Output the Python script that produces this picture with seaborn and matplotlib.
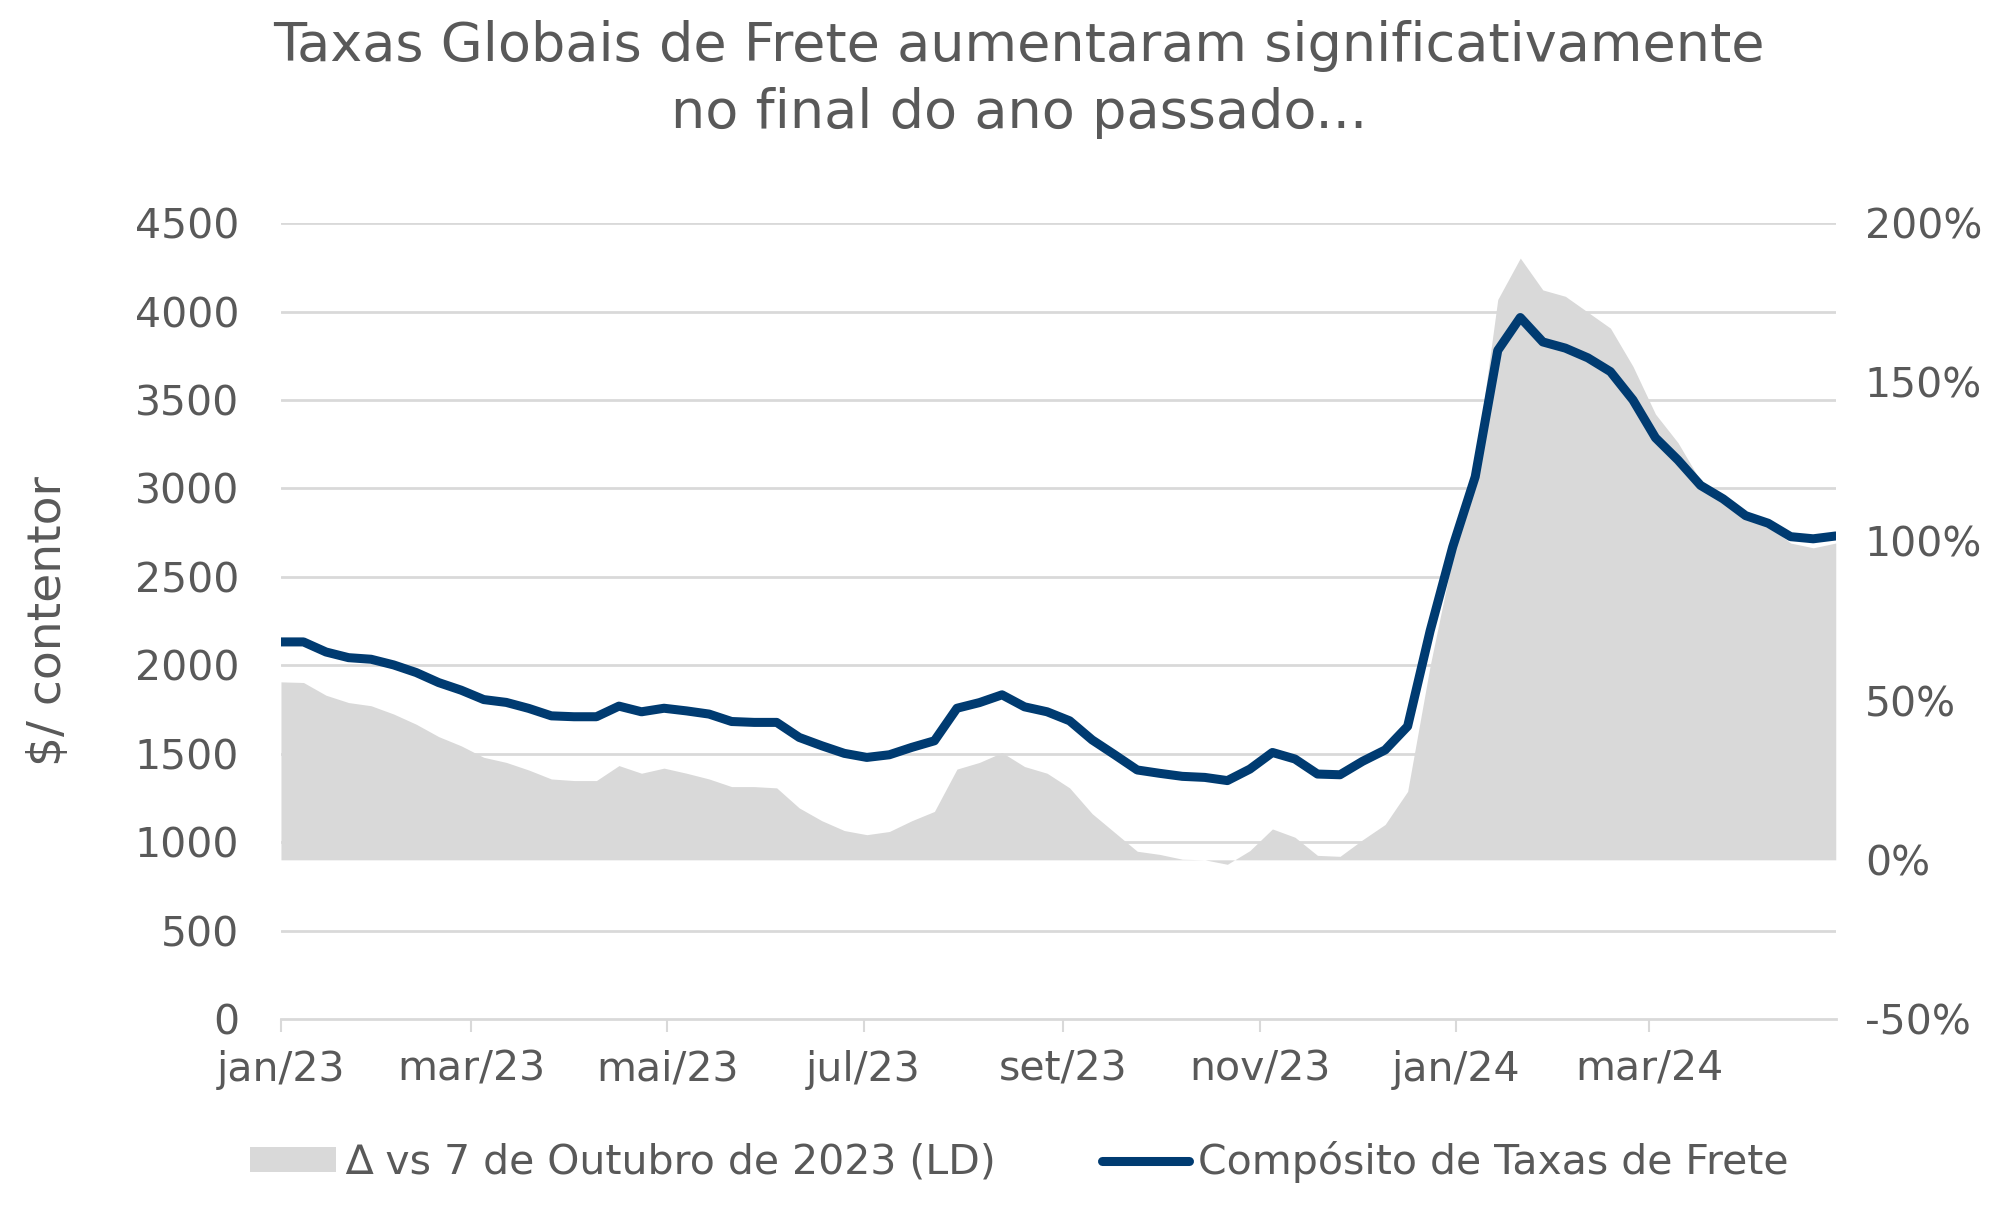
import pandas as pd
import numpy as np
import matplotlib
matplotlib.use("Agg")
import matplotlib.pyplot as plt
from matplotlib.patches import Patch
from matplotlib.lines import Line2D
import seaborn as sns

# ── Data (weekly) ─────────────────────────────────────────────────────────────
dates = pd.date_range("2023-01-05", periods=70, freq="7D")

composite = [
    2132, 2132, 2075, 2043, 2034, 2002, 1959, 1902, 1859, 1806,
    1790, 1756, 1714, 1709, 1709, 1769, 1737, 1757, 1742, 1724,
    1682, 1677, 1677, 1592, 1545, 1502, 1479, 1494, 1536, 1573,
    1757, 1789, 1833, 1765, 1737, 1686, 1578, 1494, 1408, 1389,
    1372, 1366, 1348, 1413, 1507, 1470, 1385, 1381, 1457, 1521,
    1655, 2195, 2669, 3066, 3780, 3966, 3828, 3793, 3738, 3660,
    3500, 3286, 3160, 3017, 2941, 2846, 2803, 2727, 2715, 2731,
]

delta_pct = [
    55.9, 55.7, 51.7, 49.4, 48.4, 45.8, 42.6, 38.7, 35.8, 32.2,
    30.6, 28.2, 25.4, 24.9, 24.9, 29.6, 27.2, 28.8, 27.2, 25.4,
    23.0, 23.0, 22.6, 16.3, 12.3, 9.2, 7.9, 8.9, 12.3, 15.2,
    28.5, 30.6, 33.7, 29.3, 27.2, 22.6, 14.5, 8.6, 2.7, 1.7,
    0.2, 0.0, -1.4, 2.9, 9.7, 7.1, 1.4, 1.1, 6.3, 11.1,
    21.5, 61.0, 95.0, 124.0, 176.0, 189.0, 179.0, 177.0, 172.0, 167.0,
    155.0, 140.0, 131.0, 119.0, 113.0, 108.0, 105.0, 99.5, 98.0, 99.5,
]

left_ticks = list(range(0, 4501, 500))
right_ticks = [-50, 0, 50, 100, 150, 200]
tick_dates = pd.date_range("2023-01-05", periods=8, freq=pd.DateOffset(months=2))
tick_labels = ["jan/23", "mar/23", "mai/23", "jul/23", "set/23", "nov/23", "jan/24", "mar/24"]

df = pd.DataFrame({"data": dates, "composite": composite, "delta": delta_pct})

# ── Style ─────────────────────────────────────────────────────────────────────
sns.set_theme(style="white")
plt.rcParams["font.family"] = ["DejaVu Sans"]

NAVY = "#003b71"
GREY = "#d9d9d9"
TEXT = "#595959"
FS = 29.5

fig = plt.figure(figsize=(20.14, 12.27), dpi=100)
ax = fig.add_axes([0.1395, 0.1695, 0.772, 0.6487])
ax2 = ax.twinx()

# area on the right axis (behind), line on the left axis (front)
ax2.fill_between(df["data"], 0, df["delta"], color=GREY, linewidth=0, zorder=1)
ax2.set_ylim(-50, 200)
ax2.set_yticks(right_ticks)
ax2.set_yticklabels([f"{t}%" for t in right_ticks])

ax.set_zorder(ax2.get_zorder() + 1)
ax.patch.set_visible(False)
sns.lineplot(data=df, x="data", y="composite", ax=ax, color=NAVY,
             linewidth=6.5, solid_capstyle="round", zorder=3)
ax.set_ylim(0, 4500)
ax.set_yticks(left_ticks)
ax.set_xlim(dates[0], dates[-1])
ax.set_xticks(tick_dates)
ax.set_xticklabels(tick_labels)

# gridlines drawn on the back axis so they sit under the area
for v in left_ticks[1:]:
    ax2.axhline(-50 + v / 4500 * 250, color=GREY, linewidth=2, zorder=0)

ax.set_xlabel("")
ax.set_ylabel("$/ contentor", fontsize=34, color=TEXT)
ax.yaxis.set_label_coords(-0.135, 0.5)

for a in (ax, ax2):
    for s in a.spines.values():
        s.set_visible(False)
ax.spines["bottom"].set_visible(True)
ax.spines["bottom"].set_color(GREY)
ax.spines["bottom"].set_linewidth(2)

ax.tick_params(axis="y", length=0, pad=30, labelsize=FS, labelcolor=TEXT)
ax.tick_params(axis="x", length=9, width=1.5, color=GREY, direction="out",
               pad=13, labelsize=FS, labelcolor=TEXT, bottom=True)
ax2.tick_params(axis="y", length=0, pad=21, labelsize=FS, labelcolor=TEXT)

fig.suptitle("Taxas Globais de Frete aumentaram significativamente\nno final do ano passado...",
             x=0.506, y=0.984, fontsize=39, color=TEXT, linespacing=1.38, va="top")

handles = [Patch(facecolor=GREY, edgecolor="none"),
           Line2D([0], [0], color=NAVY, linewidth=6.5, solid_capstyle="round")]
labels = ["∆ vs 7 de Outubro de 2023 (LD)", "Compósito de Taxas de Frete"]
leg = fig.legend(handles, labels, loc="center", bbox_to_anchor=(0.506, 0.053), ncol=2,
                 frameon=False, fontsize=FS, handlelength=2.1, handleheight=0.55,
                 handletextpad=0.22, columnspacing=2.6)
for t in leg.get_texts():
    t.set_color(TEXT)

fig.savefig("out.png", dpi=100)
